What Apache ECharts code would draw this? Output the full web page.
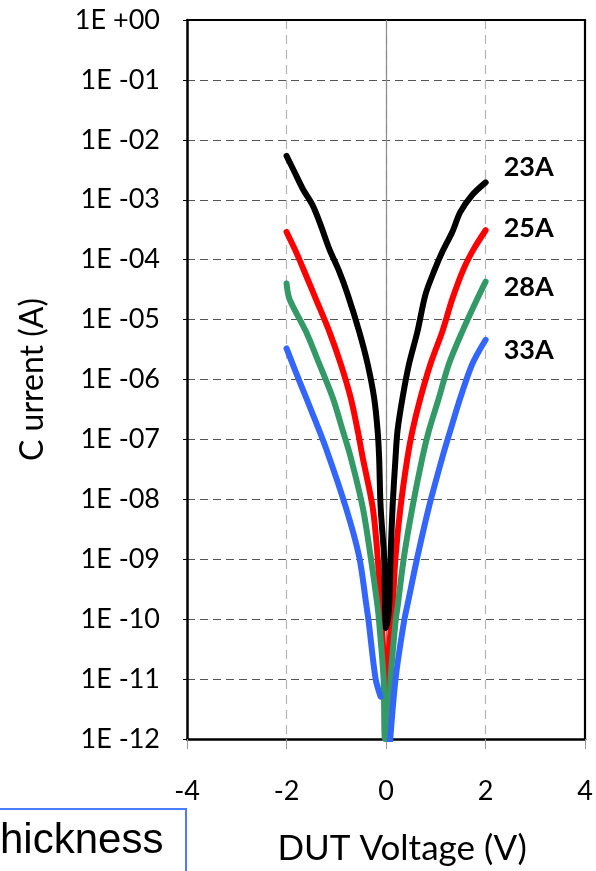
<!DOCTYPE html>
<html>
<head>
<meta charset="utf-8">
<title></title>
</head>
<body style="margin:0;background-color:#ffffff;">
<div id="container" style="width:596px;height:871px;"></div>
<script type="text/javascript" src="https://cdn.jsdelivr.net/npm/echarts@6/dist/echarts.min.js"></script>
<script type="text/javascript">

// curves, left branch to right branch
var names = ['23A', '25A', '28A', '33A'];

var v23 = [-2.0, -1.84, -1.67, -1.47, -1.31, -1.14, -0.94, -0.77, -0.54, -0.37, -0.24, -0.17, -0.14, -0.11, -0.04, -0.02, 0.0,
	0.06, 0.09, 0.13, 0.19, 0.23, 0.33, 0.46, 0.63, 0.79, 0.96, 1.13, 1.33, 1.49, 1.73, 2.0];
var i23 = [5.4e-3, 2.9e-3, 1.5e-3, 7.9e-4, 3.7e-4, 1.5e-4, 6.3e-5, 2.6e-5, 6.3e-6, 1.8e-6, 4.9e-7, 1.4e-7, 5.0e-8, 7.4e-9, 1.1e-9, 1.6e-10, 7.1e-11,
	1.6e-10, 1.1e-9, 7.4e-9, 5.0e-8, 1.4e-7, 4.9e-7, 1.8e-6, 6.3e-6, 2.6e-5, 6.3e-5, 1.35e-4, 2.9e-4, 6.2e-4, 1.2e-3, 1.95e-3];

var v25 = [-2.0, -1.81, -1.61, -1.41, -1.14, -0.91, -0.71, -0.57, -0.47, -0.27, -0.17, -0.11, -0.05, 0.0,
	0.05, 0.13, 0.19, 0.29, 0.43, 0.53, 0.69, 0.89, 1.13, 1.33, 1.56, 1.76, 2.0];
var i25 = [2.9e-4, 1.35e-4, 5.5e-5, 2.2e-5, 6.3e-6, 1.8e-6, 4.9e-7, 1.4e-7, 5.0e-8, 7.4e-9, 1.1e-9, 1.6e-10, 2.5e-11, 4e-12,
	2.5e-11, 1.6e-10, 1.1e-9, 7.4e-9, 5.0e-8, 1.4e-7, 4.9e-7, 1.8e-6, 6.3e-6, 2.2e-5, 7.1e-5, 1.5e-4, 3.1e-4];

var v28 = [-2.0, -1.94, -1.61, -1.34, -1.07, -0.87, -0.71, -0.47, -0.31, -0.17, -0.14, -0.05, -0.02,
	0.04, 0.09, 0.19, 0.23, 0.36, 0.53, 0.73, 0.86, 1.06, 1.26, 1.53, 1.83, 2.0];
var i28 = [4.0e-5, 2.2e-5, 6.3e-6, 1.8e-6, 4.9e-7, 1.4e-7, 5.0e-8, 7.4e-9, 1.1e-9, 1.6e-10, 9.1e-11, 1e-11, 1e-12,
	1e-12, 1e-11, 9.1e-11, 1.6e-10, 1.1e-9, 7.4e-9, 5.0e-8, 1.4e-7, 4.9e-7, 1.8e-6, 6.3e-6, 2.2e-5, 4.3e-5];

// null = gap between the two branches
var v33 = [-2.0, -1.74, -1.47, -1.21, -0.81, -0.54, -0.40, -0.35, -0.21, -0.11, null,
	0.075, 0.19, 0.36, 0.46, 0.63, 0.86, 1.13, 1.29, 1.49, 1.73, 2.0];
var i33 = [3.3e-6, 9.3e-7, 2.6e-7, 7.2e-8, 7.4e-9, 1.1e-9, 1.8e-10, 9.1e-11, 1e-11, 5.1e-12, null,
	8e-13, 1e-11, 9.1e-11, 2.3e-10, 1.1e-9, 7.4e-9, 5.0e-8, 1.4e-7, 4.9e-7, 1.8e-6, 4.6e-6];

var yTickLabels = ['1E +00', '1E -01', '1E -02', '1E -03', '1E -04', '1E -05', '1E -06',
	'1E -07', '1E -08', '1E -09', '1E -10', '1E -11', '1E -12'];

function pairs(vs, is) {
	var out = [];
	for (var k = 0; k < vs.length; k++) {
		if (vs[k] === null) out.push(['-', '-']);
		else out.push([vs[k], is[k]]);
	}
	return out;
}

var curves = [
	{ name: '25A', color: '#ff0000', data: pairs(v25, i25), dy: -2 },
	{ name: '23A', color: '#000000', data: pairs(v23, i23), dy: -15 },
	{ name: '28A', color: '#339966', data: pairs(v28, i28), dy: 6 },
	{ name: '33A', color: '#3366ff', data: pairs(v33, i33), dy: 11 }
];

var seriesVal = [];
for (var c = 0; c < curves.length; c++) {
	var s = {
		name: curves[c].name,
		type: 'line',
		data: curves[c].data,
		showSymbol: false,
		smooth: 0.3,
		connectNulls: false,
		z: 3 + c,
		lineStyle: { color: curves[c].color, width: 6, cap: 'round', join: 'round' },
		itemStyle: { color: curves[c].color },
		endLabel: {
			show: true,
			formatter: '{a}',
			color: '#000',
			fontFamily: 'Lato',
			fontWeight: 'bold',
			fontSize: 27,
			distance: 18,
			offset: [0, curves[c].dy]
		}
	};
	if (c === 0) {
		// solid line at x = 0
		s.markLine = {
			silent: true,
			symbol: 'none',
			label: { show: false },
			lineStyle: { color: '#8c8c8c', width: 1.2, type: 'solid' },
			data: [{ xAxis: 0 }],
			z: 1
		};
	}
	seriesVal.push(s);
}

// plain axes on top and right, only for the frame
var frameX = {
	type: 'value', position: 'top', min: -4, max: 4,
	axisLine: { onZero: false, lineStyle: { color: '#000', width: 2.2 } },
	axisTick: { show: false }, axisLabel: { show: false }, splitLine: { show: false }
};
var frameY = {
	type: 'log', position: 'right', min: 1e-12, max: 1,
	axisLine: { onZero: false, lineStyle: { color: '#000', width: 2.2 } },
	axisTick: { show: false }, axisLabel: { show: false }, splitLine: { show: false }
};

var dom = document.getElementById('container');
var myChart = echarts.init(dom);
var option = {
	backgroundColor: '#ffffff',
	animation: false,
	textStyle: { fontFamily: 'Lato' },
	grid: {
		left: 187, right: 9, top: 20, bottom: 128
	},
	xAxis: [{
		type: 'value',
		min: -4, max: 4, interval: 2,
		name: 'DUT Voltage (V)',
		nameLocation: 'middle',
		nameGap: 92,
		nameTextStyle: { color: '#000', fontSize: 35, fontFamily: 'Lato', padding: [0, 0, 0, 32] },
		axisLine: { onZero: false, lineStyle: { color: '#000', width: 2.5 } },
		axisTick: { show: true, length: 10, lineStyle: { color: '#999' } },
		axisLabel: { color: '#000', fontSize: 27, margin: 39, fontFamily: 'Lato' },
		splitLine: { show: true, showMinLine: false, showMaxLine: false, lineStyle: { color: '#b4b4b4', type: [9, 6], width: 1.2 } }
	}, frameX],
	yAxis: [{
		type: 'log',
		logBase: 10,
		min: 1e-12, max: 1,
		interval: 1,
		splitNumber: 12,
		name: 'C urrent (A)',
		nameLocation: 'middle',
		nameGap: 138,
		nameTextStyle: { color: '#000', fontSize: 32, fontFamily: 'Lato' },
		axisLine: { onZero: false, lineStyle: { color: '#000', width: 2.5 } },
		axisTick: { show: true, length: 4, lineStyle: { color: '#000' } },
		axisLabel: {
			color: '#000', fontSize: 27, margin: 27, fontFamily: 'Lato',
			formatter: function (val) {
				var e = Math.round(Math.log(val) / Math.LN10);
				return yTickLabels[-e];
			}
		},
		splitLine: { show: true, showMinLine: false, showMaxLine: false, lineStyle: { color: '#555', type: [8, 5], width: 1.2 } }
	}, frameY],
	graphic: [
		{
			type: 'rect',
			left: -10, top: 808,
			shape: { width: 195, height: 100 },
			style: { fill: '#fff', stroke: '#4a7dff', lineWidth: 2 }
		},
		{
			type: 'text',
			left: 0, top: 820,
			style: { text: 'hickness', fill: '#000', font: '42px "Liberation Sans"' }
		}
	],
	series: seriesVal
};
myChart.setOption(option, true);
</script>
</body>
</html>
